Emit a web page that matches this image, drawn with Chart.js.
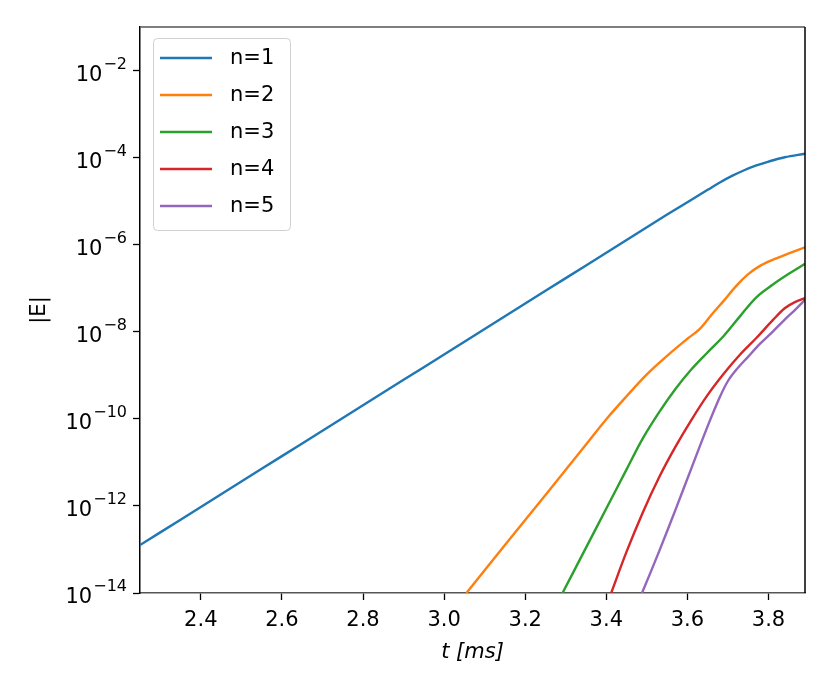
<!DOCTYPE html>
<html>
<head>
<meta charset="utf-8">
<script src="https://cdn.jsdelivr.net/npm/chart.js@4.4.1/dist/chart.umd.min.js"></script>
<style>
html,body{margin:0;padding:0;background:#fff;}
#wrap{width:830px;height:692px;}
</style>
</head>
<body>
<div id="wrap"><canvas id="c" width="830" height="692"></canvas></div>
<script>
// ---- data (t in ms, |E| values) ----
const seriesLabels = ['n=1', 'n=2', 'n=3', 'n=4', 'n=5'];
const seriesColors = ['#1f77b4', '#ff7f0e', '#2ca02c', '#d62728', '#9467bd'];

const tN1 = [2.25, 2.35, 2.45, 2.55, 2.65, 2.75, 2.85, 2.95, 3.05, 3.15, 3.25, 3.35, 3.45, 3.55, 3.65, 3.68, 3.71, 3.74, 3.77, 3.80, 3.84, 3.89];
const eN1 = [1.26e-13, 4.83e-13, 1.85e-12, 7.11e-12, 2.73e-11, 1.05e-10, 4.02e-10, 1.54e-9, 5.92e-9, 2.27e-8, 8.71e-8, 3.34e-7, 1.28e-6, 4.92e-6, 1.82e-5, 2.69e-5, 3.80e-5, 5.13e-5, 6.61e-5, 8.13e-5, 1.02e-4, 1.23e-4];

const tN2 = [3.055, 3.15, 3.25, 3.35, 3.40, 3.45, 3.50, 3.55, 3.60, 3.63, 3.66, 3.69, 3.72, 3.75, 3.78, 3.81, 3.85, 3.89];
const eN2 = [1.0e-14, 1.26e-13, 1.78e-12, 2.57e-11, 9.8e-11, 3.3e-10, 1.05e-9, 2.8e-9, 6.9e-9, 1.15e-8, 2.5e-8, 5.2e-8, 1.12e-7, 2.1e-7, 3.3e-7, 4.5e-7, 6.3e-7, 8.7e-7];

const tN3 = [3.292, 3.35, 3.40, 3.45, 3.49, 3.53, 3.57, 3.61, 3.65, 3.69, 3.73, 3.77, 3.81, 3.85, 3.89];
const eN3 = [1.0e-14, 1.10e-13, 8.7e-13, 6.9e-12, 3.55e-11, 1.41e-10, 4.8e-10, 1.38e-9, 3.39e-9, 8.1e-9, 2.29e-8, 6.2e-8, 1.20e-7, 2.14e-7, 3.63e-7];

const tN4 = [3.412, 3.45, 3.49, 3.53, 3.57, 3.61, 3.65, 3.69, 3.73, 3.77, 3.81, 3.84, 3.865, 3.89];
const eN4 = [1.0e-14, 8.9e-14, 7.1e-13, 4.5e-12, 2.24e-11, 9.5e-11, 3.55e-10, 1.10e-9, 3.0e-9, 7.2e-9, 1.82e-8, 3.47e-8, 4.8e-8, 5.9e-8];

const tN5 = [3.488, 3.53, 3.57, 3.61, 3.65, 3.68, 3.70, 3.72, 3.75, 3.78, 3.81, 3.84, 3.865, 3.89];
const eN5 = [1.0e-14, 8.9e-14, 7.9e-13, 7.4e-12, 6.8e-11, 3.16e-10, 7.4e-10, 1.32e-9, 2.69e-9, 5.4e-9, 1.0e-8, 1.91e-8, 3.16e-8, 5.4e-8];

// ---- axis ticks ----
const xTicks = [2.4, 2.6, 2.8, 3.0, 3.2, 3.4, 3.6, 3.8];
const yTickValues = [1e-14, 1e-12, 1e-10, 1e-8, 1e-6, 1e-4, 1e-2];
const yTickBase = '10';
const yTickSup = ['\u221214', '\u221212', '\u221210', '\u22128', '\u22126', '\u22124', '\u22122'];

const FONT = '"DejaVu Sans", "Liberation Sans", sans-serif';

const tSeries = [tN1, tN2, tN3, tN4, tN5];
const eSeries = [eN1, eN2, eN3, eN4, eN5];

const datasets = seriesLabels.map((lab, i) => ({
  label: lab,
  data: tSeries[i].map((t, k) => ({x: t, y: eSeries[i][k]})),
  borderColor: seriesColors[i],
  backgroundColor: seriesColors[i],
  borderWidth: 2.4,
  pointRadius: 0,
  pointHoverRadius: 0,
  fill: false,
  tension: 0.35
}));

const decorPlugin = {
  id: 'mplDecor',
  afterDraw(chart) {
    const ctx = chart.ctx;
    const ca = chart.chartArea;
    ctx.save();
    // top and right spines
    ctx.lineWidth = 1.5;
    ctx.strokeStyle = '#555';
    ctx.beginPath();
    ctx.moveTo(ca.left, ca.top);
    ctx.lineTo(ca.right, ca.top);
    ctx.stroke();
    ctx.strokeStyle = '#000';
    ctx.beginPath();
    ctx.moveTo(ca.right, ca.top);
    ctx.lineTo(ca.right, ca.bottom);
    ctx.stroke();

    // y tick labels with superscript exponents
    const ys = chart.scales.y;
    ctx.fillStyle = '#000';
    ctx.textAlign = 'right';
    ctx.textBaseline = 'alphabetic';
    yTickValues.forEach((v, i) => {
      const py = ys.getPixelForValue(v);
      ctx.font = '16px ' + FONT;
      const w = ctx.measureText(yTickSup[i]).width;
      ctx.fillText(yTickSup[i], ca.left - 13, py - 2);
      ctx.font = '21px ' + FONT;
      ctx.fillText(yTickBase, ca.left - 13 - w - 1, py + 10);
    });

    // legend (upper left, inside the axes)
    const bx = ca.left + 13, by = ca.top + 11, bw = 137, bh = 192;
    ctx.beginPath();
    if (ctx.roundRect) ctx.roundRect(bx + 0.5, by + 0.5, bw, bh, 4);
    else ctx.rect(bx + 0.5, by + 0.5, bw, bh);
    ctx.fillStyle = 'rgba(255,255,255,0.8)';
    ctx.fill();
    ctx.lineWidth = 1;
    ctx.strokeStyle = '#d0d0d0';
    ctx.stroke();
    chart.data.datasets.forEach((ds, i) => {
      const ly = by + 20 + i * 37;
      ctx.beginPath();
      ctx.moveTo(bx + 7, ly);
      ctx.lineTo(bx + 59, ly);
      ctx.strokeStyle = ds.borderColor;
      ctx.lineWidth = 2.4;
      ctx.stroke();
      ctx.fillStyle = '#000';
      ctx.font = '21px ' + FONT;
      ctx.textAlign = 'left';
      ctx.textBaseline = 'middle';
      ctx.fillText(ds.label, bx + 77, ly + 1);
    });
    ctx.restore();
  }
};

new Chart(document.getElementById('c'), {
  type: 'line',
  data: {datasets},
  options: {
    responsive: false,
    animation: false,
    devicePixelRatio: 1,
    layout: {padding: {top: 27, right: 25, left: 0, bottom: 0}},
    plugins: {legend: {display: false}, tooltip: {enabled: false}},
    scales: {
      x: {
        type: 'linear',
        min: 2.25,
        max: 3.89,
        afterBuildTicks: s => { s.ticks = xTicks.map(v => ({value: v})); },
        afterFit: s => { s.height = 99; },
        ticks: {
          callback: v => Number(v).toFixed(1),
          font: {family: FONT, size: 21},
          color: '#000',
          padding: 8,
          maxRotation: 0,
          autoSkip: false
        },
        grid: {display: true, drawOnChartArea: false, drawTicks: true, tickLength: 7, tickWidth: 1.3, tickColor: '#000'},
        border: {display: true, color: '#555', width: 1.5},
        title: {
          display: true,
          text: 't [ms]',
          color: '#000',
          font: {family: FONT, size: 21, style: 'italic'},
          padding: {top: 0, bottom: 27}
        }
      },
      y: {
        type: 'logarithmic',
        min: 1e-14,
        max: 0.1,
        afterBuildTicks: s => { s.ticks = yTickValues.map(v => ({value: v})); },
        afterFit: s => { s.width = 140; },
        ticks: {display: false},
        grid: {display: true, drawOnChartArea: false, drawTicks: true, tickLength: 7, tickWidth: 1.3, tickColor: '#000'},
        border: {display: true, color: '#000', width: 1.5},
        title: {
          display: true,
          text: '|E|',
          color: '#000',
          font: {family: FONT, size: 21},
          padding: {top: 27, bottom: 0}
        }
      }
    }
  },
  plugins: [decorPlugin]
});
</script>
</body>
</html>
